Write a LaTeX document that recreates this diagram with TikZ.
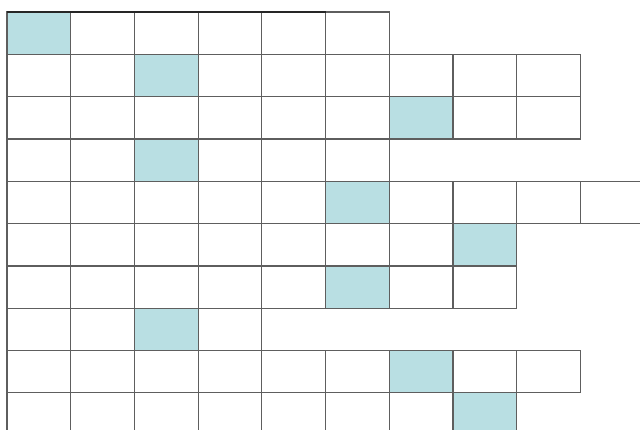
\documentclass[tikz,border=0pt]{standalone}
\usepackage{tikz}
\definecolor{cellblue}{HTML}{B9DFE3}
\definecolor{gridgray}{HTML}{5E5E5E}
\tikzset{
  gridcell/.style={draw=gridgray, line width=0.85pt, fill=white},
  markcell/.style={gridcell, fill=cellblue}
}

\begin{document}
\begin{tikzpicture}[x=1.5925cm, y=-1.058cm]
  % page frame, 640x430
  \useasboundingbox (-0.175cm, 0.3cm) rectangle (15.825cm, -10.45cm);
  \clip (-0.175cm, 0.3cm) rectangle (15.825cm, -10.45cm);

  % rows: length / marked column
  \foreach \len/\hit [count=\r from 0] in {6/0, 9/2, 9/6, 6/2, 11/5, 8/7, 8/5, 4/2, 9/6, 8/7} {
    \foreach \c in {1,...,\len}
      \draw[gridcell] (\c-1,\r) rectangle ++(1,1);
    \draw[markcell] (\hit,\r) rectangle ++(1,1);
  }

  % darker top edge
  \draw[line width=1pt, black!85] (0,0) -- (5,0);
\end{tikzpicture}
\end{document}
